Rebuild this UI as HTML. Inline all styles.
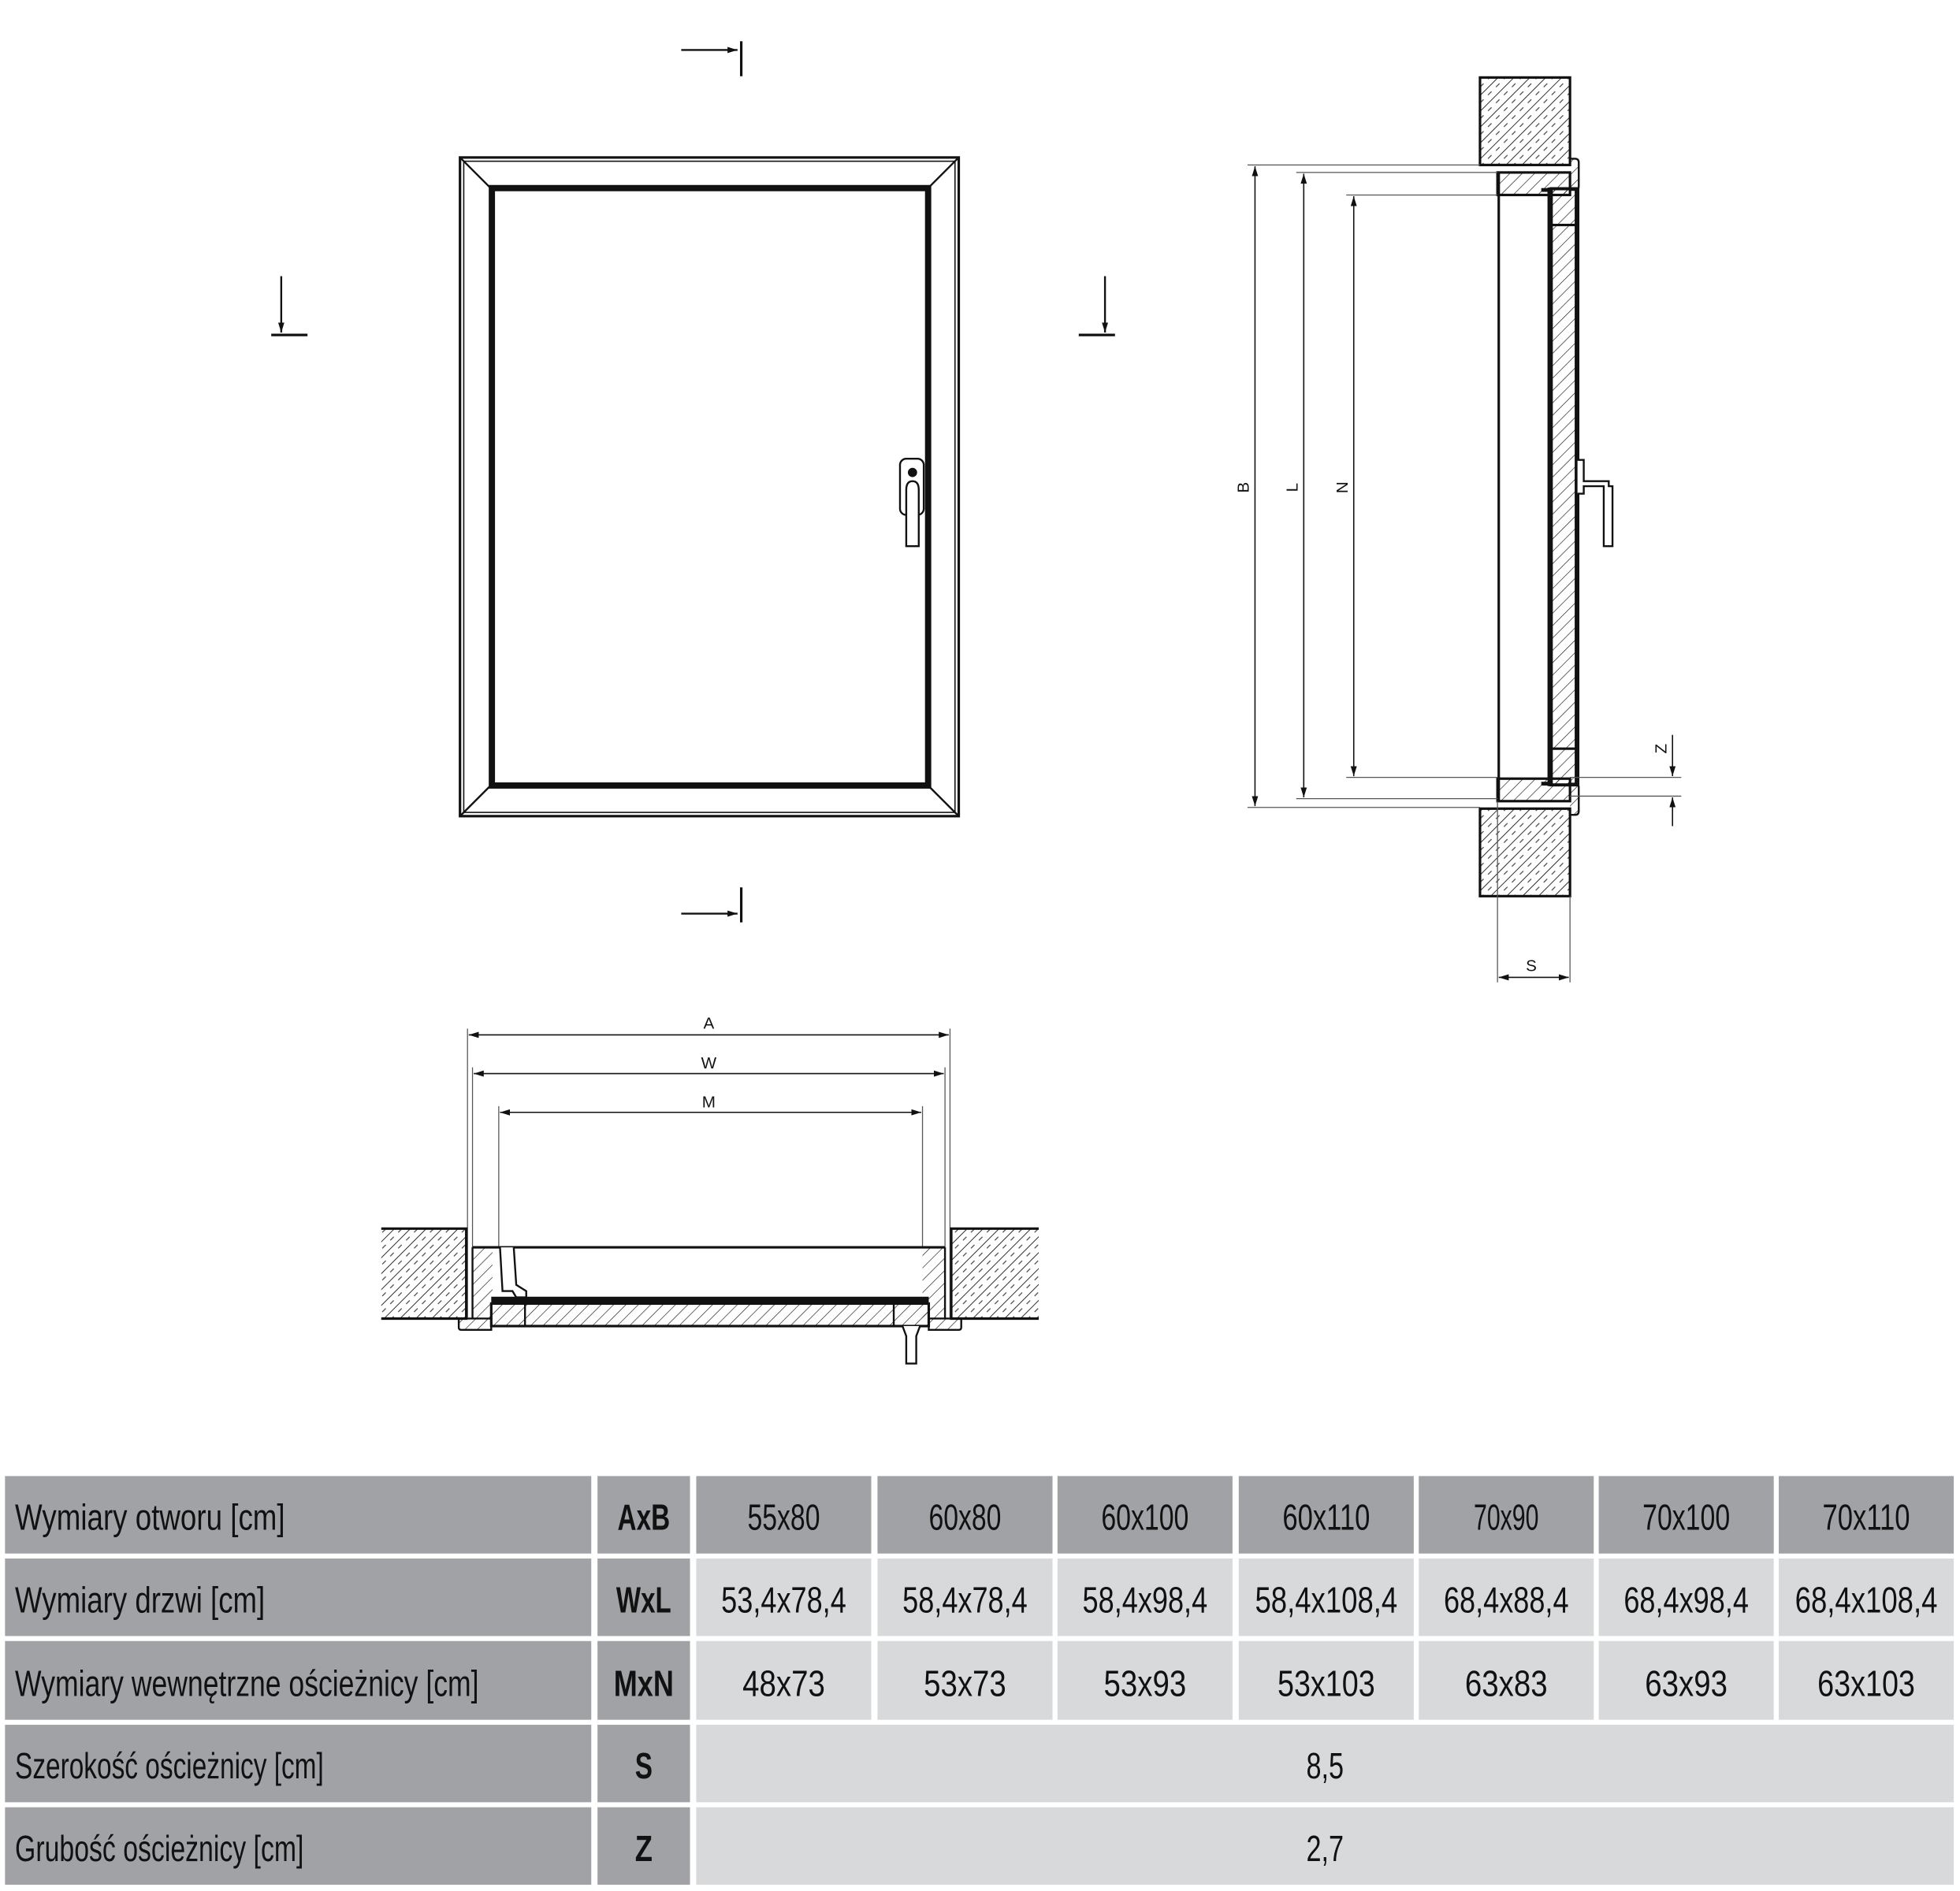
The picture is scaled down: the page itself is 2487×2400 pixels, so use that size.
<!DOCTYPE html>
<html><head><meta charset="utf-8"><style>
html,body{margin:0;padding:0;background:#fff;width:2487px;height:2400px;overflow:hidden}
svg{display:block}
.t{font-family:"Liberation Sans Narrow","Liberation Sans",sans-serif;font-size:29px;fill:#111}
.b{font-weight:bold}
.d{font-family:"Liberation Sans",sans-serif;font-size:13px;fill:#111}
</style></head><body>
<svg width="2487" height="2400" viewBox="0 0 1568 1513" preserveAspectRatio="none" xmlns="http://www.w3.org/2000/svg">
<defs>
<pattern id="h" width="9" height="9" patternUnits="userSpaceOnUse" patternTransform="rotate(45)">
<line x1="0" y1="0" x2="0" y2="9" stroke="#111" stroke-width="1.1"/>
<line x1="4.5" y1="0" x2="4.5" y2="4" stroke="#333" stroke-width="0.7"/>
</pattern>
<pattern id="h2" width="7" height="7" patternUnits="userSpaceOnUse" patternTransform="rotate(45)">
<line x1="0" y1="0" x2="0" y2="7" stroke="#111" stroke-width="0.8"/>
</pattern>
<marker id="ar" markerWidth="8" markerHeight="8" refX="8" refY="4" orient="auto" markerUnits="userSpaceOnUse"><path d="M0,1.5 L8,4 L0,6.5Z" fill="#111"/></marker>
<marker id="al" markerWidth="8" markerHeight="8" refX="0" refY="4" orient="auto" markerUnits="userSpaceOnUse"><path d="M8,1.5 L0,4 L8,6.5Z" fill="#111"/></marker>
</defs>

<!-- FRONT VIEW -->
<g stroke="#111" fill="none">
<rect x="368" y="126" width="399" height="527" stroke-width="2"/>
<rect x="371" y="129" width="393" height="521" stroke-width="1"/>
<rect x="393.5" y="150.5" width="349" height="478" stroke-width="5"/>
<line x1="369" y1="127" x2="392" y2="150" stroke-width="1.5"/>
<line x1="766" y1="127" x2="743" y2="150" stroke-width="1.5"/>
<line x1="369" y1="652" x2="392" y2="629" stroke-width="1.5"/>
<line x1="766" y1="652" x2="743" y2="629" stroke-width="1.5"/>
<rect x="720" y="367" width="19" height="45" rx="5" stroke-width="1.5" fill="#fff"/>
<circle cx="730" cy="378" r="3.2" fill="#111"/>
<path d="M725,437 V392 Q725,385 730,385 Q735,385 735,392 V437 Z" stroke-width="1.5" fill="#fff"/>
<line x1="545" y1="40" x2="590" y2="40" stroke-width="1.5" marker-end="url(#ar)"/>
<line x1="593" y1="33" x2="593" y2="61" stroke-width="2"/>
<line x1="545" y1="731" x2="590" y2="731" stroke-width="1.5" marker-end="url(#ar)"/>
<line x1="593" y1="710" x2="593" y2="738" stroke-width="2"/>
<line x1="225" y1="221" x2="225" y2="266" stroke-width="1.5" marker-end="url(#ar)"/>
<line x1="217" y1="268" x2="246" y2="268" stroke-width="2"/>
<line x1="884" y1="221" x2="884" y2="266" stroke-width="1.5" marker-end="url(#ar)"/>
<line x1="863" y1="268" x2="892" y2="268" stroke-width="2"/>
</g>

<!-- SIDE SECTION -->
<g stroke="#111" fill="none">
<rect x="1184" y="62" width="72" height="70" fill="url(#h)" stroke-width="2"/>
<rect x="1184" y="647" width="72" height="70" fill="url(#h)" stroke-width="2"/>
<rect x="1198" y="138" width="58" height="18" fill="url(#h2)" stroke-width="2"/>
<rect x="1198" y="623" width="58" height="18" fill="url(#h2)" stroke-width="2"/>
<line x1="1199" y1="138" x2="1199" y2="641" stroke-width="2"/>
<path d="M1256,127 h4 q3,0 3,3 v19 q0,3 -3,3 h-4" stroke-width="1.5" fill="url(#h2)"/>
<path d="M1256,627 h4 q3,0 3,3 v19 q0,3 -3,3 h-4" stroke-width="1.5" fill="url(#h2)"/>
<rect x="1241" y="151" width="20" height="477" fill="url(#h2)" stroke-width="2.5"/>
<line x1="1240" y1="150" x2="1240" y2="629" stroke-width="4"/>
<line x1="1262" y1="150" x2="1262" y2="629" stroke-width="3"/>
<line x1="1241" y1="180" x2="1262" y2="180" stroke-width="2"/>
<line x1="1241" y1="599" x2="1262" y2="599" stroke-width="2"/>
<line x1="1233" y1="152" x2="1241" y2="152" stroke-width="3"/>
<line x1="1233" y1="627" x2="1241" y2="627" stroke-width="3"/>
<path d="M1262,368 h5 v17 h20 v4 h3 v48 h-7 v-48 h-16 v6 h-5" stroke-width="1.5" fill="#fff"/>
<g stroke-width="0.8" stroke="#555">
<line x1="998" y1="132" x2="1184" y2="132"/>
<line x1="998" y1="646" x2="1184" y2="646"/>
<line x1="1037" y1="138" x2="1198" y2="138"/>
<line x1="1037" y1="639" x2="1198" y2="639"/>
<line x1="1077" y1="156" x2="1198" y2="156"/>
<line x1="1077" y1="622" x2="1198" y2="622"/>
<line x1="1256" y1="622" x2="1345" y2="622"/>
<line x1="1256" y1="637" x2="1345" y2="637"/>
<line x1="1198" y1="641" x2="1198" y2="786"/>
<line x1="1256" y1="717" x2="1256" y2="786"/>
</g>
<line x1="1004" y1="133" x2="1004" y2="645" stroke-width="1" marker-start="url(#al)" marker-end="url(#ar)"/>
<line x1="1043" y1="139" x2="1043" y2="638" stroke-width="1" marker-start="url(#al)" marker-end="url(#ar)"/>
<line x1="1083" y1="157" x2="1083" y2="621" stroke-width="1" marker-start="url(#al)" marker-end="url(#ar)"/>
<line x1="1338" y1="588" x2="1338" y2="621" stroke-width="1" marker-end="url(#ar)"/>
<line x1="1338" y1="661" x2="1338" y2="638" stroke-width="1" marker-end="url(#ar)"/>
<line x1="1199" y1="782" x2="1255" y2="782" stroke-width="1" marker-start="url(#al)" marker-end="url(#ar)"/>
</g>
<text class="d" transform="translate(999,390) rotate(-90)" text-anchor="middle">B</text>
<text class="d" transform="translate(1038,390) rotate(-90)" text-anchor="middle">L</text>
<text class="d" transform="translate(1078,390) rotate(-90)" text-anchor="middle">N</text>
<text class="d" transform="translate(1333,599) rotate(-90)" text-anchor="middle">Z</text>
<text class="d" x="1225" y="777" text-anchor="middle">S</text>

<!-- BOTTOM SECTION -->
<g stroke="#111" fill="none">
<g stroke-width="0.8" stroke="#555">
<line x1="374" y1="823" x2="374" y2="1054"/>
<line x1="760" y1="823" x2="760" y2="1054"/>
<line x1="378" y1="854" x2="378" y2="998"/>
<line x1="756" y1="854" x2="756" y2="998"/>
<line x1="399" y1="885" x2="399" y2="998"/>
<line x1="738" y1="885" x2="738" y2="998"/>
</g>
<line x1="375" y1="828" x2="759" y2="828" stroke-width="1" marker-start="url(#al)" marker-end="url(#ar)"/>
<line x1="379" y1="859" x2="755" y2="859" stroke-width="1" marker-start="url(#al)" marker-end="url(#ar)"/>
<line x1="400" y1="890" x2="737" y2="890" stroke-width="1" marker-start="url(#al)" marker-end="url(#ar)"/>
<rect x="305" y="983" width="68" height="72" fill="url(#h)" stroke="none"/>
<path d="M305,983 H373 V1055 H305" stroke-width="2"/>
<rect x="761" y="983" width="70" height="72" fill="url(#h)" stroke="none"/>
<path d="M831,983 H761 V1055 H831" stroke-width="2"/>
<rect x="378" y="998" width="16" height="57" fill="url(#h2)" stroke="none"/>
<rect x="738" y="998" width="18" height="57" fill="url(#h2)" stroke="none"/>
<line x1="378" y1="998" x2="756" y2="998" stroke-width="2"/>
<line x1="378" y1="998" x2="378" y2="1055" stroke-width="1.5"/>
<line x1="756" y1="998" x2="756" y2="1055" stroke-width="1.5"/>
<rect x="393" y="1043" width="350" height="18" fill="url(#h2)" stroke-width="2"/>
<line x1="393" y1="1040" x2="743" y2="1040" stroke-width="5"/>
<line x1="420" y1="1043" x2="420" y2="1061" stroke-width="1.5"/>
<line x1="715" y1="1043" x2="715" y2="1061" stroke-width="1.5"/>
<path d="M367,1055 h26 v9 h-24 q-2,0 -2,-2z" stroke-width="1.5" fill="url(#h2)"/>
<path d="M743,1055 h26 v7 q0,2 -2,2 h-24z" stroke-width="1.5" fill="url(#h2)"/>
<path d="M400,998 l2,35 h8 l3,5 h8 v-5 l-8,-5 l-2,-30" stroke-width="1.5" fill="#fff"/>
<path d="M722,1061 l3,8 v22 h8 v-22 l3,-8" stroke-width="1.5" fill="#fff"/>
</g>
<text class="d" x="567" y="823" text-anchor="middle">A</text>
<text class="d" x="567" y="855" text-anchor="middle">W</text>
<text class="d" x="567" y="886" text-anchor="middle">M</text>

<!-- TABLE -->
<g fill="#a1a2a6">
<rect x="4" y="1181" width="469" height="62"/><rect x="478" y="1181" width="74" height="62"/>
<rect x="4" y="1247" width="469" height="62"/><rect x="478" y="1247" width="74" height="62"/>
<rect x="4" y="1313" width="469" height="63"/><rect x="478" y="1313" width="74" height="63"/>
<rect x="4" y="1380" width="469" height="62"/><rect x="478" y="1380" width="74" height="62"/>
<rect x="4" y="1446" width="469" height="62"/><rect x="478" y="1446" width="74" height="62"/>
<rect x="557" y="1181" width="140" height="62"/><rect x="702" y="1181" width="140" height="62"/>
<rect x="846" y="1181" width="140" height="62"/><rect x="991" y="1181" width="140" height="62"/>
<rect x="1135" y="1181" width="140" height="62"/><rect x="1279" y="1181" width="140" height="62"/>
<rect x="1423" y="1181" width="140" height="62"/>
</g>
<g fill="#d8d9db">
<rect x="557" y="1247" width="140" height="62"/><rect x="702" y="1247" width="140" height="62"/>
<rect x="846" y="1247" width="140" height="62"/><rect x="991" y="1247" width="140" height="62"/>
<rect x="1135" y="1247" width="140" height="62"/><rect x="1279" y="1247" width="140" height="62"/>
<rect x="1423" y="1247" width="140" height="62"/>
<rect x="557" y="1313" width="140" height="63"/><rect x="702" y="1313" width="140" height="63"/>
<rect x="846" y="1313" width="140" height="63"/><rect x="991" y="1313" width="140" height="63"/>
<rect x="1135" y="1313" width="140" height="63"/><rect x="1279" y="1313" width="140" height="63"/>
<rect x="1423" y="1313" width="140" height="63"/>
<rect x="557" y="1380" width="1006" height="62"/>
<rect x="557" y="1446" width="1006" height="62"/>
</g>
<g class="t">
<text x="12" y="1224" textLength="216" lengthAdjust="spacingAndGlyphs">Wymiary otworu [cm]</text>
<text x="12" y="1290" textLength="200" lengthAdjust="spacingAndGlyphs">Wymiary drzwi [cm]</text>
<text x="12" y="1357" textLength="371" lengthAdjust="spacingAndGlyphs">Wymiary wewnętrzne ościeżnicy [cm]</text>
<text x="12" y="1423" textLength="247" lengthAdjust="spacingAndGlyphs">Szerokość ościeżnicy [cm]</text>
<text x="12" y="1489" textLength="231" lengthAdjust="spacingAndGlyphs">Grubość ościeżnicy [cm]</text>
<text class="b" x="515" y="1224" text-anchor="middle" textLength="42" lengthAdjust="spacingAndGlyphs">AxB</text>
<text class="b" x="515" y="1290" text-anchor="middle" textLength="44" lengthAdjust="spacingAndGlyphs">WxL</text>
<text class="b" x="515" y="1357" text-anchor="middle" textLength="48" lengthAdjust="spacingAndGlyphs">MxN</text>
<text class="b" x="515" y="1423" text-anchor="middle" textLength="14" lengthAdjust="spacingAndGlyphs">S</text>
<text class="b" x="515" y="1489" text-anchor="middle" textLength="14" lengthAdjust="spacingAndGlyphs">Z</text>
<g text-anchor="middle">
<text x="627" y="1224" textLength="58" lengthAdjust="spacingAndGlyphs">55x80</text>
<text x="772" y="1224" textLength="58" lengthAdjust="spacingAndGlyphs">60x80</text>
<text x="916" y="1224" textLength="70" lengthAdjust="spacingAndGlyphs">60x100</text>
<text x="1061" y="1224" textLength="70" lengthAdjust="spacingAndGlyphs">60x110</text>
<text x="1205" y="1224" textLength="52" lengthAdjust="spacingAndGlyphs">70x90</text>
<text x="1349" y="1224" textLength="70" lengthAdjust="spacingAndGlyphs">70x100</text>
<text x="1493" y="1224" textLength="70" lengthAdjust="spacingAndGlyphs">70x110</text>
<text x="627" y="1290" textLength="100" lengthAdjust="spacingAndGlyphs">53,4x78,4</text>
<text x="772" y="1290" textLength="100" lengthAdjust="spacingAndGlyphs">58,4x78,4</text>
<text x="916" y="1290" textLength="100" lengthAdjust="spacingAndGlyphs">58,4x98,4</text>
<text x="1061" y="1290" textLength="114" lengthAdjust="spacingAndGlyphs">58,4x108,4</text>
<text x="1205" y="1290" textLength="100" lengthAdjust="spacingAndGlyphs">68,4x88,4</text>
<text x="1349" y="1290" textLength="100" lengthAdjust="spacingAndGlyphs">68,4x98,4</text>
<text x="1493" y="1290" textLength="114" lengthAdjust="spacingAndGlyphs">68,4x108,4</text>
<text x="627" y="1357" textLength="66" lengthAdjust="spacingAndGlyphs">48x73</text>
<text x="772" y="1357" textLength="66" lengthAdjust="spacingAndGlyphs">53x73</text>
<text x="916" y="1357" textLength="66" lengthAdjust="spacingAndGlyphs">53x93</text>
<text x="1061" y="1357" textLength="78" lengthAdjust="spacingAndGlyphs">53x103</text>
<text x="1205" y="1357" textLength="66" lengthAdjust="spacingAndGlyphs">63x83</text>
<text x="1349" y="1357" textLength="66" lengthAdjust="spacingAndGlyphs">63x93</text>
<text x="1493" y="1357" textLength="78" lengthAdjust="spacingAndGlyphs">63x103</text>
<text x="1060" y="1423" textLength="30" lengthAdjust="spacingAndGlyphs">8,5</text>
<text x="1060" y="1489" textLength="30" lengthAdjust="spacingAndGlyphs">2,7</text>
</g>
</g>
</svg>
</body></html>
